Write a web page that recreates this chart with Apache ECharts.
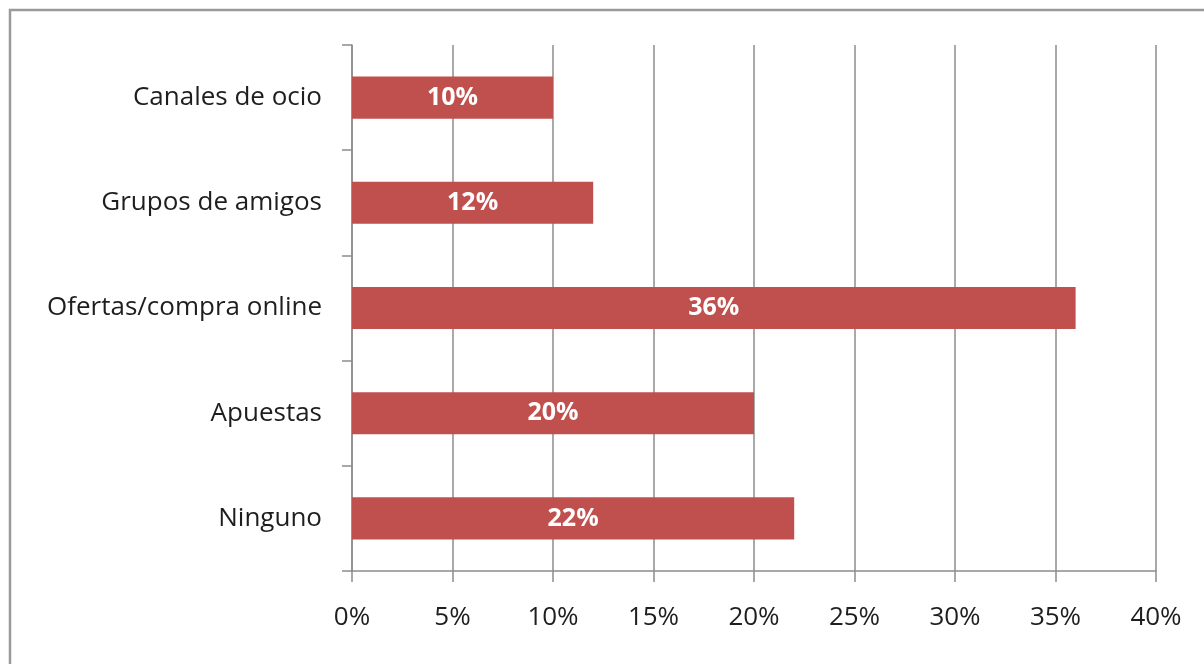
<!DOCTYPE html>
<html>
<head>
<meta charset="utf-8">
<script src="https://cdn.jsdelivr.net/npm/echarts@6/dist/echarts.min.js"></script>
<style>
html,body{margin:0;padding:0;background:#fff;}
#chart{width:1204px;height:664px;}
</style>
</head>
<body>
<div id="chart"></div>
<script>
const categories = ["Canales de ocio", "Grupos de amigos", "Ofertas/compra online", "Apuestas", "Ninguno"];
const values = [10, 12, 36, 20, 22];
const xTicks = [0, 5, 10, 15, 20, 25, 30, 35, 40];

const chart = echarts.init(document.getElementById('chart'), null, {renderer: 'canvas'});
const font = '"Open Sans", "Noto Sans", sans-serif';
const gray = '#8c8c8c';
chart.setOption({
  animation: false,
  backgroundColor: '#ffffff',
  graphic: [{
    type: 'rect',
    shape: {x: 10, y: 10, width: 1300, height: 800},
    style: {fill: 'none', stroke: '#9a9a9a', lineWidth: 2.5},
    silent: true
  }],
  grid: {left: 352, right: 48, top: 45, bottom: 93},
  xAxis: {
    type: 'value',
    min: xTicks[0],
    max: xTicks[xTicks.length - 1],
    interval: 5,
    axisLine: {show: true, lineStyle: {color: gray, width: 1.5}},
    axisTick: {show: true, length: 11, lineStyle: {color: gray, width: 1.5}},
    splitLine: {show: true, lineStyle: {color: gray, width: 1.5}},
    axisLabel: {
      formatter: '{value}%',
      color: '#1e1e1e',
      fontFamily: font,
      fontSize: 26,
      margin: 34
    }
  },
  yAxis: {
    type: 'category',
    data: categories,
    inverse: true,
    axisLine: {show: true, lineStyle: {color: gray, width: 1.5}},
    axisTick: {show: true, length: 10, inside: false, lineStyle: {color: gray, width: 1.5}},
    axisLabel: {
      color: '#1e1e1e',
      fontFamily: font,
      fontSize: 26,
      margin: 30
    },
    splitLine: {show: false}
  },
  series: [{
    type: 'bar',
    data: values,
    barWidth: '40%',
    itemStyle: {color: '#C0504D'},
    label: {
      show: true,
      position: 'inside',
      formatter: '{c}%',
      color: '#ffffff',
      fontFamily: font,
      fontSize: 25,
      fontWeight: 'bold'
    }
  }]
});
</script>
</body>
</html>
